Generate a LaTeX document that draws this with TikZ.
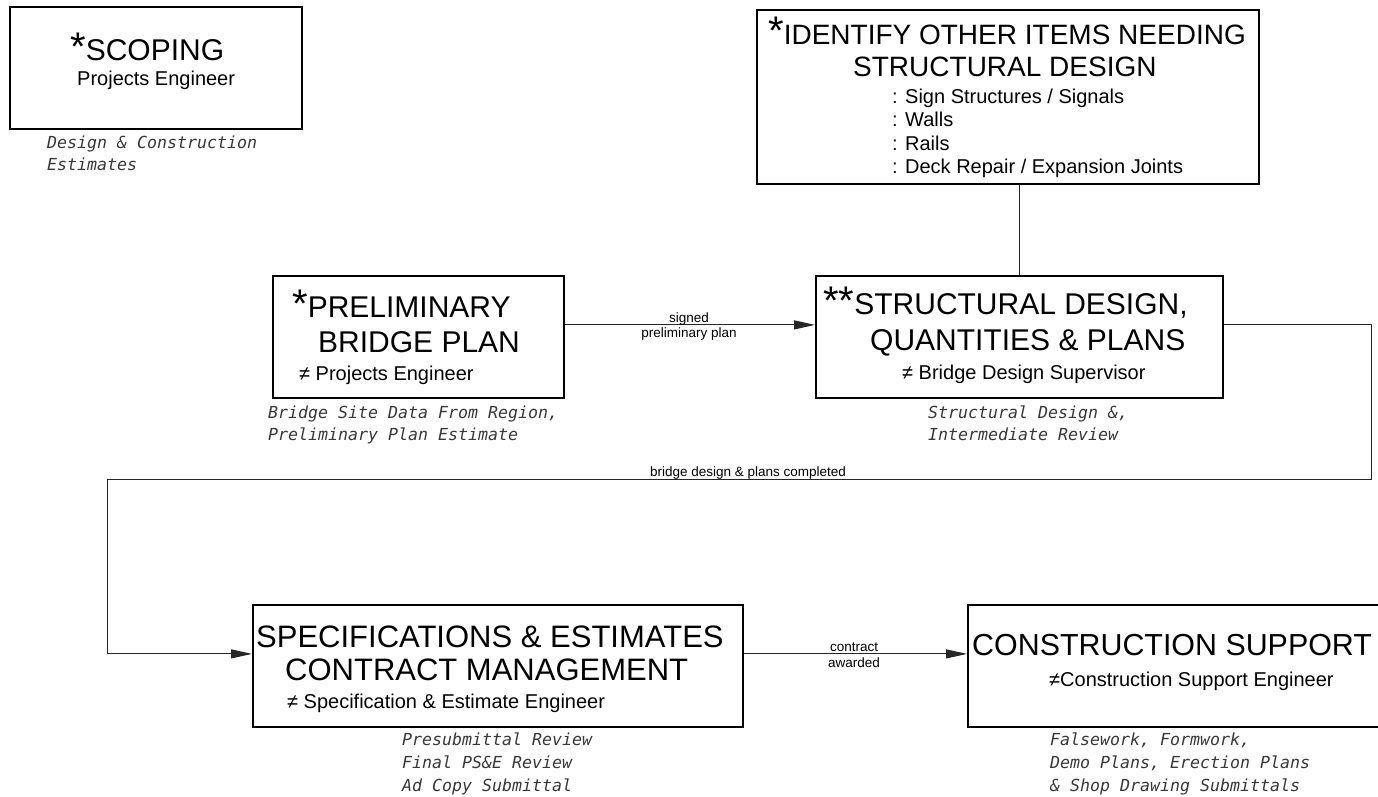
\documentclass[tikz,border=0pt]{standalone}
\usepackage{fontspec}
\setmainfont{Liberation Sans}
\newfontfamily\annotfont{DejaVu Sans Mono Oblique}
\usetikzlibrary{arrows.meta}
\newcommand{\neqsym}{≠}
\newcommand{\bigast}{{\fontsize{40}{40}\selectfont *}}
\begin{document}
\begin{tikzpicture}[x=1pt,y=-1pt,
  box/.style={draw=black, line width=1.8pt, inner sep=0pt, anchor=north west},
  ttl/.style={anchor=base west, inner sep=0pt, font=\fontsize{30}{30}\selectfont},
  ttlbig/.style={anchor=base west, inner sep=0pt, font=\fontsize{31}{31}\selectfont},
  ttlsm/.style={anchor=base west, inner sep=0pt, font=\fontsize{28}{28}\selectfont},
  sub/.style={anchor=base west, inner sep=0pt, font=\fontsize{20}{20}\selectfont},
  ann/.style={anchor=base west, inner sep=0pt, text=black!78, font=\annotfont\fontsize{16.6}{16.6}\selectfont},
  lab/.style={anchor=base, inner sep=0pt, font=\fontsize{13.5}{13.5}\selectfont},
  conn/.style={line width=1pt, draw=black!85},
  arr/.style={-{Triangle[length=21pt,width=9pt]}}
]
\useasboundingbox (0,0) rectangle (1378,797);
\clip (0,0) rectangle (1378,797);
\fill[white] (0,0) rectangle (1378,797);

% boxes
\node[box, minimum width=292pt, minimum height=122pt] (scope) at (9,6) {};
\node[box, minimum width=502pt, minimum height=174pt] (ident) at (756,9) {};
\node[box, minimum width=291pt, minimum height=122pt] (prelim) at (272,275) {};
\node[box, minimum width=407pt, minimum height=122pt] (struct) at (815,275) {};
\node[box, minimum width=490pt, minimum height=122pt] (spec) at (252,604) {};
\node[box, minimum width=460pt, minimum height=122pt] (constr) at (967,604) {};

% SCOPING
\node[ttl] (scopeT) at (70,61) {\bigast SCOPING};
\node[sub] (scopeS) at (77,86) {Projects Engineer};
\node[ann] (scopeA1) at (47,148) {Design \& Construction};
\node[ann] (scopeA2) at (47,170) {Estimates};

% IDENTIFY
\node[ttlsm] (identT1) at (768,45) {\bigast IDENTIFY OTHER ITEMS NEEDING};
\node[ttlsm] (identT2) at (853,77) {STRUCTURAL DESIGN};
\node[sub] (identS1) at (892,104) {: Sign Structures / Signals};
\node[sub] (identS2) at (892,127) {: Walls};
\node[sub] (identS3) at (892,150) {: Rails};
\node[sub] (identS4) at (892,173) {: Deck Repair / Expansion Joints};

% PRELIMINARY
\node[ttl] (prelimT1) at (292,317) {\bigast PRELIMINARY};
\node[ttl] (prelimT2) at (318,352) {BRIDGE PLAN};
\node[sub] (prelimS) at (299,380) {\neqsym\ Projects Engineer};
\node[ann] (prelimA1) at (268,418) {Bridge Site Data From Region,};
\node[ann] (prelimA2) at (268,440) {Preliminary Plan Estimate};

% STRUCTURAL
\node[ttl] (structT1) at (823,314) {\bigast\bigast STRUCTURAL DESIGN,};
\node[ttl] (structT2) at (870,350) {QUANTITIES \& PLANS};
\node[sub] (structS) at (902,379) {\neqsym\ Bridge Design Supervisor};
\node[ann] (structA1) at (928,418) {Structural Design \&,};
\node[ann] (structA2) at (928,440) {Intermediate Review};

% SPEC
\node[ttlbig] (specT1) at (256,647) {SPECIFICATIONS \& ESTIMATES};
\node[ttlbig] (specT2) at (285,680) {CONTRACT MANAGEMENT};
\node[sub] (specS) at (287,708) {\neqsym\ Specification \& Estimate Engineer};
\node[ann] (specA1) at (402,745) {Presubmittal Review};
\node[ann] (specA2) at (402,768) {Final PS\&E Review};
\node[ann] (specA3) at (402,791) {Ad Copy Submittal};

% CONSTRUCTION
\node[anchor=base west, inner sep=0pt, font=\fontsize{30.4}{30.4}\selectfont] (constrT) at (972,655) {CONSTRUCTION SUPPORT};
\node[sub] (constrS) at (1049,686) {\neqsym Construction Support Engineer};
\node[ann] (constrA1) at (1050,745) {Falsework, Formwork,};
\node[ann] (constrA2) at (1050,768) {Demo Plans, Erection Plans};
\node[ann] (constrA3) at (1050,791) {\& Shop Drawing Submittals};

% connectors
\coordinate (loopR) at (1371,479);
\coordinate (loopL) at (107,479);
\draw[conn] (struct.north |- ident.south) -- (struct.north);
\draw[conn,arr] ([yshift=12pt]prelim.east) -- ([yshift=12pt]struct.west);
\draw[conn] ([yshift=12pt]struct.east) -| (loopR) -- (loopL);
\draw[conn,arr] (loopL) |- ([yshift=12pt]spec.west);
\draw[conn,arr] ([yshift=12pt]spec.east) -- ([yshift=12pt]constr.west);

% connector labels
\node[lab] (l1a) at (689,322) {signed};
\node[lab] (l1b) at (689,337) {preliminary plan};
\node[lab] (l2) at (748,476) {bridge design \& plans completed};
\node[lab] (l3a) at (854,651) {contract};
\node[lab] (l3b) at (854,667) {awarded};
\end{tikzpicture}
\end{document}
